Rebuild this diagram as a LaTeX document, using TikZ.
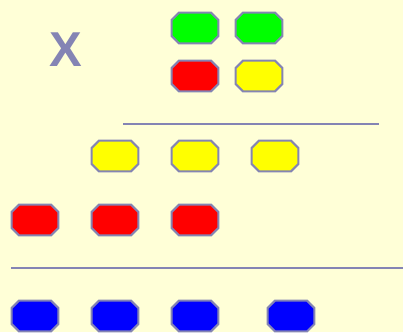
\documentclass[tikz,border=0pt]{standalone}
\usepackage{fontspec}
\setmainfont{Liberation Sans}
\definecolor{bg}{HTML}{FFFFD7}
\definecolor{edge}{HTML}{8484B4}
\definecolor{cgreen}{HTML}{00FF00}
\definecolor{cred}{HTML}{FF0000}
\definecolor{cyellow}{HTML}{FFFF00}
\definecolor{cblue}{HTML}{0000FF}
\tikzset{
  octbox/.style={rectangle, minimum width=46.5pt, minimum height=30.5pt, inner sep=0pt},
  octline/.style={draw=edge, line width=2pt, line join=miter},
  divider/.style={draw=edge, line width=2pt},
}
\newcommand\octnode[3]{%
  \node[octbox] (#1) at (#2) {};
  \draw[octline, fill=#3]
    ([xshift=7.5pt]#1.north west) -- ([xshift=-7.5pt]#1.north east) --
    ([yshift=-7.5pt]#1.north east) -- ([yshift=7.5pt]#1.south east) --
    ([xshift=-7.5pt]#1.south east) -- ([xshift=7.5pt]#1.south west) --
    ([yshift=7.5pt]#1.south west) -- ([yshift=-7.5pt]#1.north west) -- cycle;
}
\begin{document}
\begin{tikzpicture}[x=1pt,y=-1pt]
\fill[bg] (0,0) rectangle (403,332);
\useasboundingbox (0,0) rectangle (403,332);
\node[text=edge, inner sep=0pt, font=\fontsize{49}{49}\selectfont\bfseries] (x) at (65.5,49.5) {X};
% top group
\octnode{g1}{195,28}{cgreen}
\octnode{g2}{259,28}{cgreen}
\octnode{r0}{195,76}{cred}
\octnode{y0}{259,76}{cyellow}
\coordinate (l1a) at (123,124);
\coordinate (l1b) at (379,124);
\draw[divider] (l1a) -- (l1b);
% yellow row
\octnode{y1}{115,156}{cyellow}
\octnode{y2}{195,156}{cyellow}
\octnode{y3}{275,156}{cyellow}
% red row
\octnode{r1}{35,220}{cred}
\octnode{r2}{115,220}{cred}
\octnode{r3}{195,220}{cred}
\coordinate (l2a) at (11,268);
\coordinate (l2b) at (403,268);
\draw[divider] (l2a) -- (l2b);
% blue row
\octnode{b1}{35,316}{cblue}
\octnode{b2}{115,316}{cblue}
\octnode{b3}{195,316}{cblue}
\octnode{b4}{291,316}{cblue}
\end{tikzpicture}
\end{document}
